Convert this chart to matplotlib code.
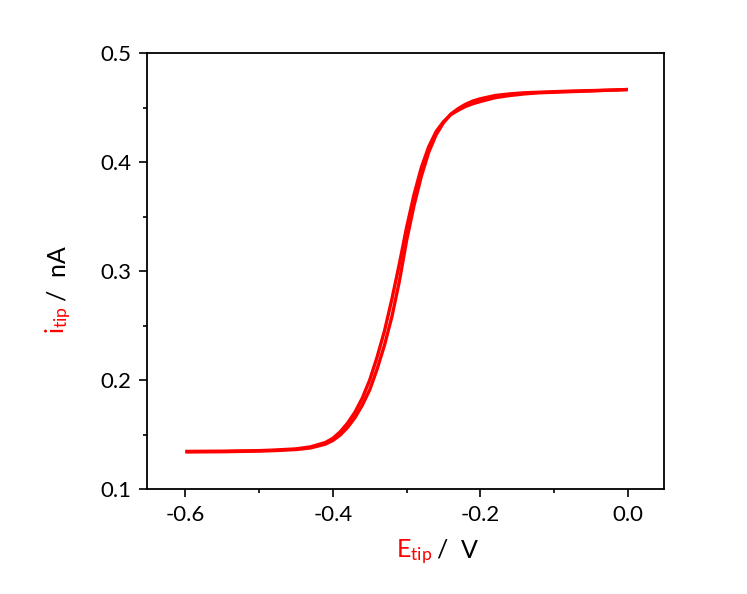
import matplotlib
matplotlib.use("Agg")
import matplotlib.pyplot as plt

plt.rcParams['font.family'] = ['Lato', 'DejaVu Sans']
plt.rcParams['mathtext.fontset'] = 'custom'
plt.rcParams['mathtext.rm'] = 'Lato'
plt.rcParams['mathtext.it'] = 'Lato'

RED = '#ff0000'

# tip potential (V) and tip current (nA)
e_tip = [-0.60, -0.55, -0.50, -0.48, -0.45, -0.43, -0.41, -0.40, -0.39, -0.38,
         -0.37, -0.36, -0.35, -0.34, -0.33, -0.32, -0.31, -0.30, -0.29, -0.28,
         -0.27, -0.26, -0.25, -0.24, -0.23, -0.22, -0.21, -0.20, -0.18, -0.16,
         -0.14, -0.12, -0.10, -0.08, -0.05, -0.02, 0.00]
i_fwd = [0.134, 0.1342, 0.1348, 0.1352, 0.1362, 0.1377, 0.1412, 0.1445, 0.1495, 0.1565,
         0.1655, 0.177, 0.191, 0.210, 0.232, 0.258, 0.290, 0.328, 0.360, 0.387,
         0.409, 0.425, 0.436, 0.444, 0.449, 0.453, 0.456, 0.458, 0.461, 0.4625,
         0.4635, 0.464, 0.4645, 0.465, 0.4655, 0.466, 0.4665]
i_rev = [0.1345, 0.1347, 0.1352, 0.1357, 0.1368, 0.1387, 0.1427, 0.1465, 0.1525, 0.1605,
         0.1705, 0.1835, 0.200, 0.221, 0.245, 0.274, 0.306, 0.340, 0.370, 0.395,
         0.414, 0.428, 0.437, 0.4435, 0.4475, 0.451, 0.4535, 0.4555, 0.459, 0.461,
         0.4625, 0.4635, 0.464, 0.4645, 0.4652, 0.466, 0.4665]

x_ticks = [-0.6, -0.4, -0.2, 0.0]
x_labels = ['-0.6', '-0.4', '-0.2', '0.0']
y_ticks = [0.1, 0.2, 0.3, 0.4, 0.5]
y_labels = ['0.1', '0.2', '0.3', '0.4', '0.5']

fig = plt.figure(figsize=(7.47, 5.94), dpi=100)
ax = fig.add_axes([147/747, 1-489/594, (664-147)/747, (489-53)/594])

ax.plot(e_tip, i_fwd, color=RED, lw=2.4, solid_capstyle='butt')
ax.plot(e_tip[::-1], i_rev[::-1], color=RED, lw=2.4, solid_capstyle='butt')

ax.set_xlim(-0.652, 0.049)
ax.set_ylim(0.1, 0.5)
ax.set_xticks(x_ticks)
ax.set_xticklabels(x_labels)
ax.set_yticks(y_ticks)
ax.set_yticklabels(y_labels)
ax.set_xticks([-0.5, -0.3, -0.1], minor=True)
ax.set_yticks([0.15, 0.25, 0.35, 0.45], minor=True)
ax.tick_params(which='major', direction='out', length=5.5, width=1.2,
               labelsize=16, pad=6)
ax.tick_params(which='minor', direction='out', length=3, width=1.2)
for s in ax.spines.values():
    s.set_linewidth(1.3)

# axis labels with red symbol + subscript, black units
fig.canvas.draw()
r = fig.canvas.get_renderer()
t1 = fig.text(396/747, 1-558/594, r'$\mathrm{E}_{\mathrm{tip}}$', color=RED,
              fontsize=18, ha='left', va='baseline')
bb = t1.get_window_extent(r)
fig.text(bb.x1/747 + 5/747, 1-558/594, '/  V', color='black',
         fontsize=18, ha='left', va='baseline')

t3 = fig.text(65/747, 1-334/594, r'$\mathrm{i}_{\mathrm{tip}}$', color=RED,
              fontsize=18, rotation=90, ha='left', va='baseline',
              rotation_mode='anchor')
bb = t3.get_window_extent(r)
fig.text(65/747, bb.y1/594 + 5/594, '/  nA', color='black', fontsize=18,
         rotation=90, ha='left', va='baseline', rotation_mode='anchor')

fig.savefig('out.png', dpi=100, facecolor='white')
